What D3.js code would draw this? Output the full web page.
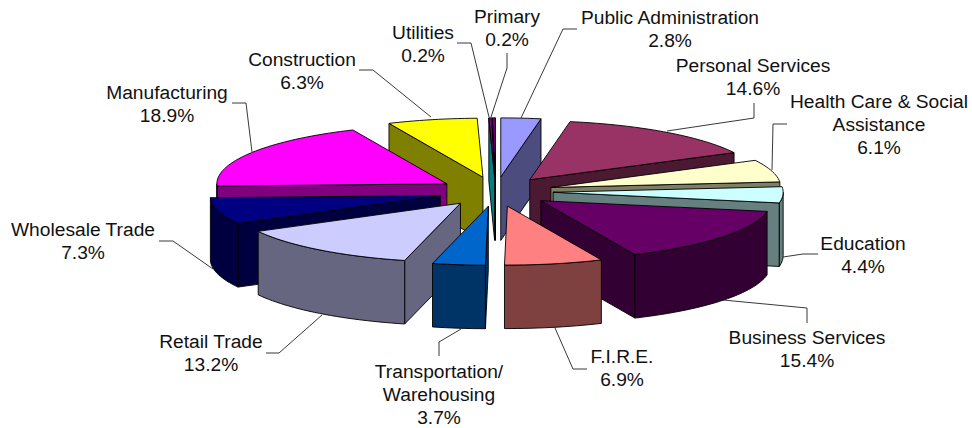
<!DOCTYPE html>
<html><head><meta charset="utf-8">
<script src="https://cdn.jsdelivr.net/npm/d3@7"></script>
<style>html,body{margin:0;padding:0;background:#fff}svg{display:block}text{font-family:"Liberation Sans",Arial,sans-serif;font-size:19.2px;fill:#111}</style>
</head><body><svg id="c" width="972" height="428"></svg>
<script>
const categories = ["Public Administration","Personal Services","Health Care & Social Assistance","Education","Business Services","F.I.R.E.","Transportation/ Warehousing","Retail Trade","Wholesale Trade","Manufacturing","Construction","Utilities","Primary"];
const shares = [2.8,14.6,6.1,4.4,15.4,6.9,3.7,13.2,7.3,18.9,6.3,0.2,0.2];
const topColors = ["#9999FF","#993366","#FFFFCC","#CCFFFF","#660066","#FF8080","#0066CC","#CCCCFF","#000080","#FF00FF","#FFFF00","#800080","#800080"];
const wallColors = ["#4C4C7F","#4C1933","#7F7F66","#667F7F","#330033","#7F4040","#003366","#666680","#000040","#800080","#808000","#008080","#008080"];
const labelLines = [["Public Administration"],["Personal Services"],["Health Care & Social","Assistance"],["Education"],["Business Services"],["F.I.R.E."],["Transportation/","Warehousing"],["Retail Trade"],["Wholesale Trade"],["Manufacturing"],["Construction"],["Utilities"],["Primary"]];
// label placement: centre x, first baseline
const labelAt = [[670,24],[753,72],[879,108],[863,250],[807,344],[622,363],[439,378],[211,348],[83,236],[167,99],[302,66],[423,39],[507,23]];
const leaders = [
 [[521,118],[563,29],[577,29]],[[667,131],[754,118],[754,103]],[[772,170],[773,124],[787,124]],
 [[783,257],[803,254],[818,254]],[[723,300],[807,308],[807,323]],[[555,328],[573,369],[587,369]],
 [[461,329],[439,342],[439,356]],[[322,315],[279,353],[266,353]],[[213,269],[173,241],[159,241]],
 [[252,152],[246,103],[232,103]],[[431,117],[373,70],[359,70]],[[489,117],[471,43],[457,43]],[[491,117],[507,68],[507,53]]
];
const cx=495.7, cy=191.6, rx=230, ry=59, depth=63.5, explode=0.25;
const X=d3.scaleLinear().domain([-1,1]).range([cx-rx,cx+rx]);
const Y=d3.scaleLinear().domain([-1,1]).range([cy-ry,cy+ry]);
const pie=d3.pie().sort(null).value(d=>d.v).startAngle(0).endAngle(2*Math.PI);
const arcs=pie(shares.map((v,i)=>({v,i})));
const line=d3.line();
const svg=d3.select("#c");
const chart=svg.append("g");
function ptr(c,a,r=1){return [c.x+r*Math.sin(a),c.y-r*Math.cos(a)];}
function scr(p,dy=0){return [X(p[0]),Y(p[1])+dy];}
function arcPts(c,a0,a1){const n=Math.max(2,Math.ceil((a1-a0)/0.03));return d3.range(n+1).map(k=>ptr(c,a0+(a1-a0)*k/n));}
const sorted=arcs.slice().sort((p,q)=>Math.cos((q.startAngle+q.endAngle)/2)-Math.cos((p.startAngle+p.endAngle)/2));
sorted.forEach(d=>{
  const i=d.data.i, a0=d.startAngle,a1=d.endAngle,m=(a0+a1)/2;
  const c={x:explode*Math.sin(m),y:-explode*Math.cos(m)};
  const g=chart.append("g").attr("class","slice");
  const st={stroke:"#000","stroke-width":0.9,"stroke-linejoin":"round"};
  function face(pts,fill){const p=g.append("path").attr("d",line(pts)+"Z").attr("fill",fill);for(const k in st)p.attr(k,st[k]);}
  const wall=(a)=>{const o=ptr(c,a),ap=[c.x,c.y];face([scr(ap),scr(o),scr(o,depth),scr(ap,depth)],wallColors[i]);};
  if(Math.sin(a0)<0) wall(a0);
  if(Math.sin(a1)>0) wall(a1);
  const lo=Math.max(a0,Math.PI/2),hi=Math.min(a1,1.5*Math.PI);
  if(hi>lo){const pts=arcPts(c,lo,hi);face(pts.map(p=>scr(p)).concat(pts.slice().reverse().map(p=>scr(p,depth))),wallColors[i]);}
  face([scr([c.x,c.y])].concat(arcPts(c,a0,a1).map(p=>scr(p))),topColors[i]);
});
svg.append("g").selectAll("path").data(leaders).join("path").attr("d",d=>line(d)).attr("fill","none").attr("stroke","#222").attr("stroke-width",0.9);
const lg=svg.append("g");
categories.forEach((name,i)=>{
  const t=lg.append("text").attr("text-anchor","middle");
  labelLines[i].concat([shares[i].toFixed(1)+"%"]).forEach((s,k)=>{
    t.append("tspan").attr("x",labelAt[i][0]).attr("y",labelAt[i][1]+k*23).text(s);
  });
});
</script></body></html>
